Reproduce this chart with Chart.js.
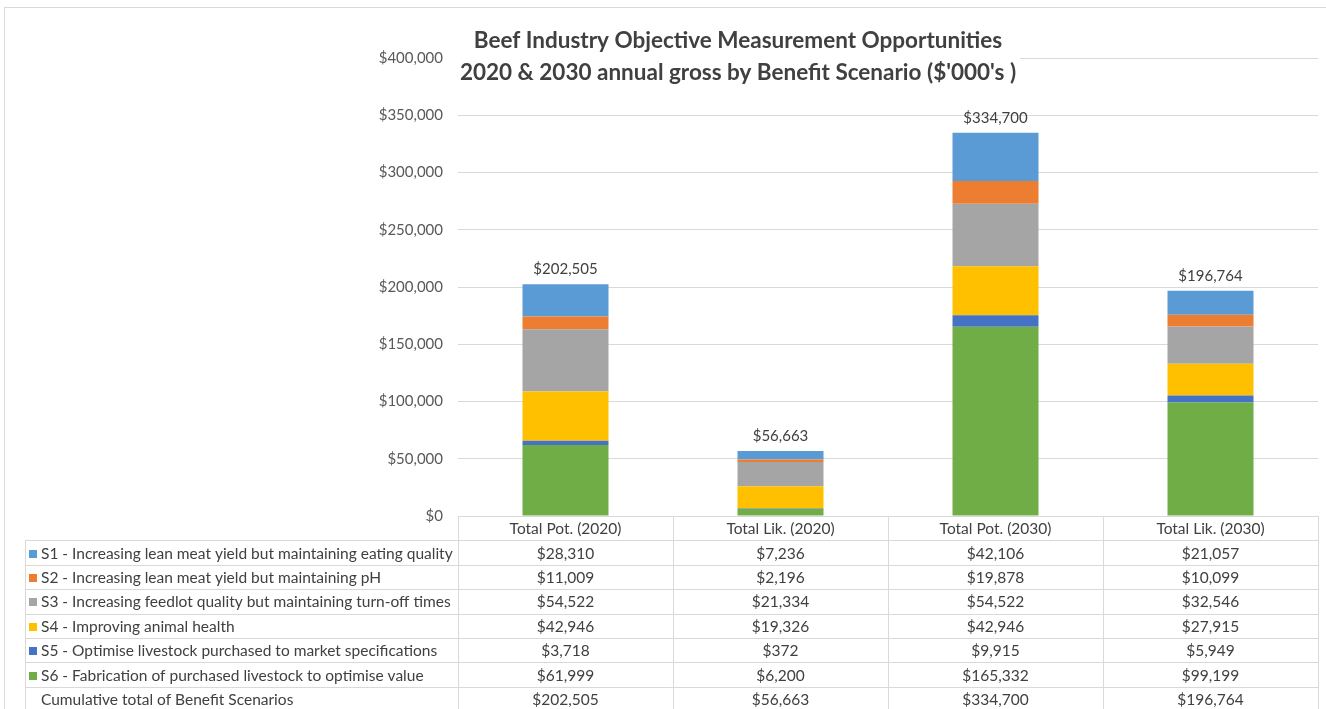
<!DOCTYPE html>
<html>
<head>
<meta charset="utf-8">
<script src="https://cdn.jsdelivr.net/npm/chart.js@4.4.1/dist/chart.umd.min.js"></script>
<style>
  html, body { margin: 0; padding: 0; background: #fff; }
</style>
</head>
<body>
<canvas id="beef-chart" width="1326" height="709"></canvas>
<script>
// values ($'000s)
const categories = ['Total Pot. (2020)', 'Total Lik. (2020)', 'Total Pot. (2030)', 'Total Lik. (2030)'];
const scenarioNames = [
    'S1 - Increasing lean meat yield but maintaining eating quality',
    'S2 - Increasing lean meat yield but maintaining pH',
    'S3 - Increasing feedlot quality but maintaining turn-off times',
    'S4 - Improving animal health',
    'S5 - Optimise livestock purchased to market specifications',
    'S6 - Fabrication of purchased livestock to optimise value'
];
const s1 = [28310, 7236, 42106, 21057];
const s2 = [11009, 2196, 19878, 10099];
const s3 = [54522, 21334, 54522, 32546];
const s4 = [42946, 19326, 42946, 27915];
const s5 = [3718, 372, 9915, 5949];
const s6 = [61999, 6200, 165332, 99199];
const totals = [202505, 56663, 334700, 196764];
const totalLabel = 'Cumulative total of Benefit Scenarios';
const yMax = 400000;
const yStep = 50000;
const titleLines = [
    'Beef Industry Objective Measurement Opportunities',
    "2020 & 2030 annual gross by Benefit Scenario ($'000's )"
];

const colors = ['#5b9bd5', '#ed7d31', '#a5a5a5', '#ffc000', '#4472c4', '#70ad47'];
const series = [s1, s2, s3, s4, s5, s6];
const textColor = '#404040';
const lineColor = '#d9d9d9';
const FONT = 'Lato';

const money = v => '$' + v.toLocaleString('en-US');

// bottom of stack first: S6 ... S1
const datasets = series.map((vals, i) => ({
    label: scenarioNames[i],
    data: vals,
    backgroundColor: colors[i],
    borderWidth: 0,
    categoryPercentage: 0.8,
    barPercentage: 0.5
})).reverse();

const px = v => Math.round(v) + 0.5;

const framePlugin = {
    id: 'frame',
    beforeDraw(chart) {
        const ctx = chart.ctx;
        ctx.save();
        ctx.fillStyle = '#fff';
        ctx.fillRect(0, 0, chart.width, chart.height);
        ctx.strokeStyle = lineColor;
        ctx.lineWidth = 1;
        ctx.strokeRect(4.5, 7.5, chart.width + 10, chart.height + 10);
        ctx.restore();
    }
};

const totalsPlugin = {
    id: 'totals',
    afterDatasetsDraw(chart) {
        const { ctx, scales: { x, y } } = chart;
        ctx.save();
        ctx.font = '15px ' + FONT;
        ctx.fillStyle = textColor;
        ctx.textAlign = 'center';
        ctx.textBaseline = 'bottom';
        totals.forEach((t, i) => {
            ctx.fillText(money(t), x.getPixelForValue(i), y.getPixelForValue(t) - 7);
        });
        ctx.restore();
    }
};

const tablePlugin = {
    id: 'dataTable',
    afterDraw(chart) {
        const { ctx, chartArea, scales: { x } } = chart;
        const half = (x.getPixelForValue(1) - x.getPixelForValue(0)) / 2;
        const left = 25;
        const top = chartArea.bottom;
        const right = chartArea.right;
        const rowH = 24.4;
        const rows = series.map((vals, i) => ({ name: scenarioNames[i], vals, color: colors[i] }));
        rows.push({ name: totalLabel, vals: totals, color: null });

        ctx.save();
        ctx.strokeStyle = lineColor;
        ctx.lineWidth = 1;
        ctx.beginPath();
        ctx.moveTo(chartArea.left, px(top));
        ctx.lineTo(right, px(top));
        for (let r = 1; r <= rows.length + 1; r++) {
            ctx.moveTo(left, px(top + r * rowH));
            ctx.lineTo(right, px(top + r * rowH));
        }
        const bottom = top + (rows.length + 1) * rowH;
        ctx.moveTo(px(chartArea.left), top);
        ctx.lineTo(px(chartArea.left), bottom);
        categories.forEach((c, i) => {
            const xb = px(x.getPixelForValue(i) + half);
            ctx.moveTo(xb, top);
            ctx.lineTo(xb, bottom);
        });
        ctx.moveTo(px(left), top + rowH);
        ctx.lineTo(px(left), bottom);
        ctx.stroke();

        ctx.font = '15.5px ' + FONT;
        ctx.fillStyle = textColor;
        ctx.textBaseline = 'middle';
        ctx.textAlign = 'center';
        categories.forEach((c, i) => {
            ctx.fillText(c, x.getPixelForValue(i), top + rowH / 2 + 1);
        });
        rows.forEach((row, r) => {
            const cy = top + (r + 1) * rowH + rowH / 2 + 1;
            if (row.color) {
                ctx.fillStyle = row.color;
                ctx.fillRect(29, Math.round(cy - 4), 8, 8);
            }
            ctx.fillStyle = textColor;
            ctx.textAlign = 'left';
            ctx.fillText(row.name, 41, cy);
            ctx.textAlign = 'center';
            row.vals.forEach((v, i) => ctx.fillText(money(v), x.getPixelForValue(i), cy));
        });
        ctx.restore();
    }
};

const titlePlugin = {
    id: 'titleBox',
    afterDraw(chart) {
        const ctx = chart.ctx;
        const cx = 738;
        ctx.save();
        ctx.font = 'bold 22.5px ' + FONT;
        const w = Math.max(...titleLines.map(t => ctx.measureText(t).width));
        ctx.fillStyle = '#fff';
        ctx.fillRect(cx - w / 2 - 4, 22, w + 8, 68);
        ctx.fillStyle = textColor;
        ctx.textAlign = 'center';
        ctx.textBaseline = 'middle';
        titleLines.forEach((t, i) => ctx.fillText(t, cx, 41 + i * 32));
        ctx.restore();
    }
};

Chart.defaults.font.family = FONT;
const ctx = document.getElementById('beef-chart');
new Chart(ctx, {
    type: 'bar',
    data: { labels: categories, datasets },
    options: {
        responsive: false,
        animation: false,
        layout: { padding: { top: 58, right: 8, bottom: 193, left: 0 } },
        scales: {
            x: {
                stacked: true,
                display: false
            },
            y: {
                stacked: true,
                min: 0,
                max: yMax,
                border: { display: false },
                grid: { color: lineColor, drawTicks: false },
                ticks: {
                    stepSize: yStep,
                    padding: 15,
                    color: '#595959',
                    font: { size: 15 },
                    callback: v => money(v)
                },
                afterFit(scale) { scale.width = 458; }
            }
        },
        plugins: {
            legend: { display: false },
            tooltip: { enabled: false }
        }
    },
    plugins: [framePlugin, totalsPlugin, tablePlugin, titlePlugin]
});
</script>
</body>
</html>
